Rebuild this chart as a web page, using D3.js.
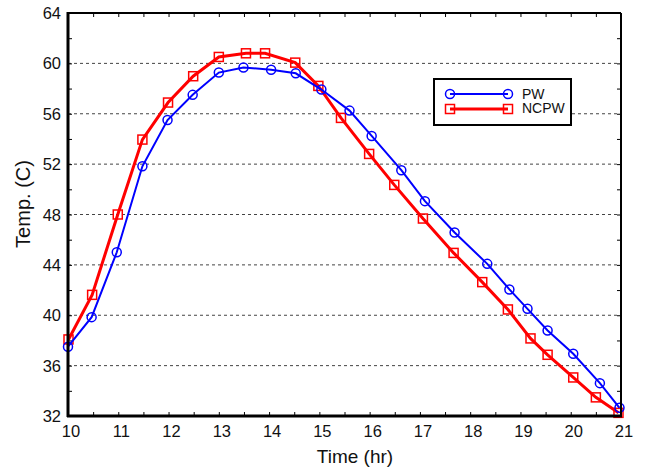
<!DOCTYPE html>
<html>
<head>
<meta charset="utf-8">
<script src="https://cdn.jsdelivr.net/npm/d3@7"></script>
<style>
  body { margin: 0; background: #fff; }
  text { font-family: "Liberation Sans", Arial, sans-serif; fill: #111; }
</style>
</head>
<body>
<div id="chart"></div>
<script>
// data
var pwTime = [10, 10.47, 10.97, 11.48, 11.98, 12.48, 13.0, 13.49, 14.04, 14.53, 15.04, 15.6,
  16.04, 16.63, 17.1, 17.69, 18.34, 18.78, 19.14, 19.54, 20.05, 20.58, 20.97];
var pwTemp = [37.5, 39.85, 45.0, 51.83, 55.5, 57.5, 59.27, 59.67, 59.5, 59.21, 57.92, 56.25,
  54.24, 51.52, 49.06, 46.57, 44.08, 42.05, 40.51, 38.79, 36.94, 34.61, 32.65];
var ncpwTime = [10.01, 10.48, 10.99, 11.48, 11.99, 12.49, 13.0, 13.54, 13.92, 14.52, 14.98, 15.43,
  15.99, 16.49, 17.06, 17.67, 18.24, 18.75, 19.2, 19.54, 20.05, 20.5, 20.95];
var ncpwTemp = [38.08, 41.62, 48.0, 53.95, 56.89, 58.98, 60.51, 60.8, 60.8, 60.06, 58.21, 55.67,
  52.81, 50.35, 47.68, 44.95, 42.63, 40.46, 38.16, 36.86, 35.06, 33.48, 32.25];
var xTicks = [10, 11, 12, 13, 14, 15, 16, 17, 18, 19, 20, 21];
var yTicks = [32, 36, 40, 44, 48, 52, 56, 60, 64];

var margin = {top: 13, right: 25, bottom: 59, left: 68},
    width = 646 - margin.left - margin.right,
    height = 475 - margin.top - margin.bottom;

var svg = d3.select("#chart")
  .append("svg")
    .attr("width", 646)
    .attr("height", 475)
  .append("g")
    .attr("transform", "translate(" + margin.left + "," + margin.top + ")");

var x = d3.scaleLinear().domain([10, 21]).range([0, width]);
var y = d3.scaleLinear().domain([32, 64]).range([height, 0]);

// dashed grid
svg.selectAll(".grid")
  .data(yTicks.filter(function(d){ return d > 32 && d < 64; }))
  .enter()
  .append("line")
    .attr("x1", 0).attr("x2", width)
    .attr("y1", function(d){ return y(d); })
    .attr("y2", function(d){ return y(d); })
    .attr("stroke", "#444")
    .attr("stroke-width", 1)
    .attr("stroke-dasharray", "3,3");

// inward minor ticks on all four sides
var xMinor = d3.range(10, 21.01, 0.5);
var yMinor = d3.range(32, 64.01, 2);
svg.append("g")
  .attr("transform", "translate(0," + height + ")")
  .call(d3.axisBottom(x).tickValues(xMinor).tickSize(-4).tickFormat(""))
  .call(function(g){ g.select(".domain").remove(); });
svg.append("g")
  .call(d3.axisTop(x).tickValues(xMinor).tickSize(-4).tickFormat(""))
  .call(function(g){ g.select(".domain").remove(); });
svg.append("g")
  .call(d3.axisLeft(y).tickValues(yMinor).tickSize(-4).tickFormat(""))
  .call(function(g){ g.select(".domain").remove(); });
svg.append("g")
  .attr("transform", "translate(" + width + ",0)")
  .call(d3.axisRight(y).tickValues(yMinor).tickSize(-4).tickFormat(""))
  .call(function(g){ g.select(".domain").remove(); });

// tick labels
svg.selectAll(".xlab")
  .data(xTicks)
  .enter()
  .append("text")
    .attr("x", function(d){ return x(d) + 3; })
    .attr("y", height + 21)
    .attr("text-anchor", "middle")
    .style("font-size", "16.5px")
    .text(function(d){ return d; });
svg.selectAll(".ylab")
  .data(yTicks)
  .enter()
  .append("text")
    .attr("x", -7)
    .attr("y", function(d){ return y(d) + 6; })
    .attr("text-anchor", "end")
    .style("font-size", "16.5px")
    .text(function(d){ return d; });

// axis titles
svg.append("text")
  .attr("x", 355 - margin.left)
  .attr("y", 463 - margin.top)
  .attr("text-anchor", "middle")
  .style("font-size", "19px")
  .text("Time (hr)");
svg.append("text")
  .attr("transform", "translate(" + (30 - margin.left) + "," + (204 - margin.top) + ")rotate(-90)")
  .attr("text-anchor", "middle")
  .style("font-size", "20px")
  .text("Temp. (C)");

// lines
var pw = pwTime.map(function(t, i){ return {t: t, v: pwTemp[i]}; });
var ncpw = ncpwTime.map(function(t, i){ return {t: t, v: ncpwTemp[i]}; });
var line = d3.line()
  .x(function(d){ return x(d.t); })
  .y(function(d){ return y(d.v); });

svg.append("path")
  .datum(ncpw)
  .attr("d", line)
  .attr("fill", "none")
  .attr("stroke", "#f00")
  .attr("stroke-width", 3);
svg.selectAll(".sq")
  .data(ncpw)
  .enter()
  .append("rect")
    .attr("x", function(d){ return x(d.t) - 4.5; })
    .attr("y", function(d){ return y(d.v) - 4.5; })
    .attr("width", 9).attr("height", 9)
    .attr("fill", "none")
    .attr("stroke", "#f00")
    .attr("stroke-width", 1.5);

svg.append("path")
  .datum(pw)
  .attr("d", line)
  .attr("fill", "none")
  .attr("stroke", "#00f")
  .attr("stroke-width", 2);
svg.selectAll(".circ")
  .data(pw)
  .enter()
  .append("circle")
    .attr("cx", function(d){ return x(d.t); })
    .attr("cy", function(d){ return y(d.v); })
    .attr("r", 4.5)
    .attr("fill", "none")
    .attr("stroke", "#00f")
    .attr("stroke-width", 1.5);

// frame
svg.append("line").attr("x1", 0).attr("x2", width).attr("y1", 0).attr("y2", 0)
  .attr("stroke", "#000").attr("stroke-width", 2);
svg.append("line").attr("x1", width).attr("x2", width).attr("y1", 0).attr("y2", height)
  .attr("stroke", "#000").attr("stroke-width", 2);
svg.append("line").attr("x1", -1).attr("x2", width + 1).attr("y1", height).attr("y2", height)
  .attr("stroke", "#000").attr("stroke-width", 3);
svg.append("line").attr("x1", 0).attr("x2", 0).attr("y1", -1).attr("y2", height + 1)
  .attr("stroke", "#000").attr("stroke-width", 3);

// legend
var lg = svg.append("g").attr("transform", "translate(" + (434 - margin.left) + "," + (79 - margin.top) + ")");
lg.append("rect")
  .attr("width", 137).attr("height", 46)
  .attr("fill", "#fff")
  .attr("stroke", "#000")
  .attr("stroke-width", 2);
lg.append("line").attr("x1", 16).attr("x2", 74).attr("y1", 15).attr("y2", 15)
  .attr("stroke", "#00f").attr("stroke-width", 2);
lg.append("circle").attr("cx", 16).attr("cy", 15).attr("r", 4.5)
  .attr("fill", "none").attr("stroke", "#00f").attr("stroke-width", 1.5);
lg.append("circle").attr("cx", 74).attr("cy", 15).attr("r", 4.5)
  .attr("fill", "none").attr("stroke", "#00f").attr("stroke-width", 1.5);
lg.append("line").attr("x1", 16).attr("x2", 74).attr("y1", 30).attr("y2", 30)
  .attr("stroke", "#f00").attr("stroke-width", 3);
lg.append("rect").attr("x", 11.5).attr("y", 25.5).attr("width", 9).attr("height", 9)
  .attr("fill", "none").attr("stroke", "#f00").attr("stroke-width", 1.5);
lg.append("rect").attr("x", 69.5).attr("y", 25.5).attr("width", 9).attr("height", 9)
  .attr("fill", "none").attr("stroke", "#f00").attr("stroke-width", 1.5);
lg.append("text").attr("x", 88).attr("y", 19.5).style("font-size", "14px").text("PW");
lg.append("text").attr("x", 88).attr("y", 34).style("font-size", "14px").text("NCPW");
</script>
</body>
</html>
